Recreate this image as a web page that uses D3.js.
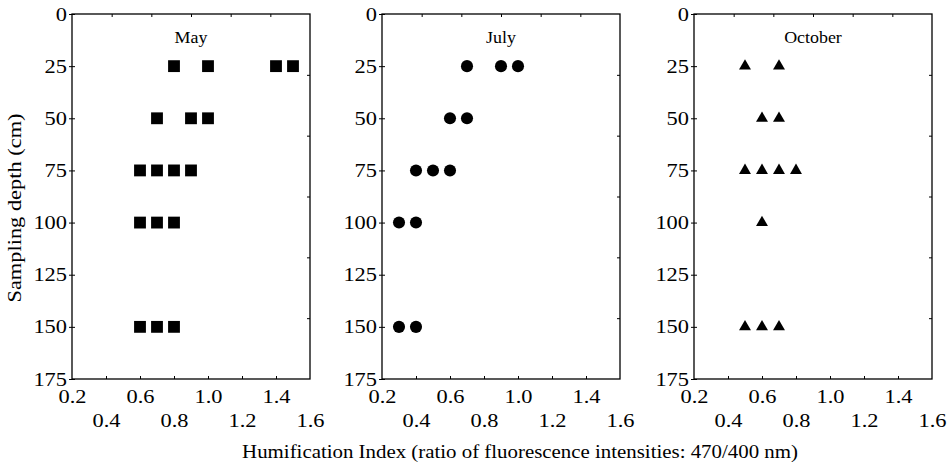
<!DOCTYPE html>
<html>
<head>
<meta charset="utf-8">
<script src="https://cdn.jsdelivr.net/npm/d3@7"></script>
<style>
  body { margin: 0; background: #fff; }
  text { font-family: "Liberation Serif", "Times New Roman", serif; fill: #000; }
</style>
</head>
<body>
<script>
// Data: humification index per sampling depth
const depthTicks = [0, 25, 50, 75, 100, 125, 150, 175];
const hiTicksRow1 = [0.2, 0.6, 1.0, 1.4];
const hiTicksRow2 = [0.4, 0.8, 1.2, 1.6];
const hiMinorTicks = [0.4, 0.6, 0.8, 1.0, 1.2, 1.4];

const panelNames = ['May', 'July', 'October'];

const mayDepth = [25, 25, 25, 25, 50, 50, 50, 75, 75, 75, 75, 100, 100, 100, 150, 150, 150];
const mayHI = [0.8, 1.0, 1.4, 1.5, 0.7, 0.9, 1.0, 0.6, 0.7, 0.8, 0.9, 0.6, 0.7, 0.8, 0.6, 0.7, 0.8];

const julyDepth = [25, 25, 25, 50, 50, 75, 75, 75, 100, 100, 150, 150];
const julyHI = [0.7, 0.9, 1.0, 0.6, 0.7, 0.4, 0.5, 0.6, 0.3, 0.4, 0.3, 0.4];

const octDepth = [25, 25, 50, 50, 75, 75, 75, 75, 100, 150, 150, 150];
const octHI = [0.5, 0.7, 0.6, 0.7, 0.5, 0.6, 0.7, 0.8, 0.6, 0.5, 0.6, 0.7];

const width = 952, height = 463;
const panelLeft = [72, 382, 694];
const panelW = 238;
const plotTop = 14, plotBottom = 379;
const stretch = 1.18; // glyphs in the figure are wider than Times

const svg = d3.select('body').append('svg')
    .attr('width', width)
    .attr('height', height);

// widen text horizontally, keeping its anchor point
function widen(sel, k) {
    sel.each(function () {
        const t = d3.select(this);
        const x = +t.attr('x') || 0;
        const y = +t.attr('y') || 0;
        t.attr('x', 0).attr('y', 0)
            .attr('transform', `translate(${x},${y}) scale(${k},1)`);
    });
}

const y = d3.scaleLinear().domain([0, 175]).range([plotTop, plotBottom]);

const panels = [
    { name: panelNames[0], depth: mayDepth, hi: mayHI, symbol: d3.symbolSquare, size: 140 },
    { name: panelNames[1], depth: julyDepth, hi: julyHI, symbol: d3.symbolCircle, size: 115 },
    { name: panelNames[2], depth: octDepth, hi: octHI, symbol: d3.symbolTriangle, size: 62 }
];

panels.forEach((p, i) => {
    const x0 = panelLeft[i];
    const x = d3.scaleLinear().domain([0.2, 1.6]).range([x0, x0 + panelW]);
    const g = svg.append('g');

    // left axis: ticks crossing the spine, labels outside
    const yl = g.append('g')
        .attr('transform', `translate(${x0},0)`)
        .call(d3.axisLeft(y).tickValues(depthTicks).tickSize(3).tickPadding(2));
    yl.select('.domain').remove();
    yl.attr('font-family', null).attr('font-size', null);
    yl.selectAll('text').attr('font-size', 19);
    widen(yl.selectAll('text'), stretch);
    g.append('g')
        .attr('transform', `translate(${x0},0)`)
        .call(d3.axisRight(y).tickValues(depthTicks).tickSize(3).tickFormat(''))
        .select('.domain').remove();

    // bottom: inward minor ticks plus two staggered rows of labels
    g.append('g')
        .attr('transform', `translate(0,${plotBottom})`)
        .call(d3.axisTop(x).tickValues(hiMinorTicks).tickSize(3).tickFormat(''))
        .select('.domain').remove();
    [[hiTicksRow1, 10], [hiTicksRow2, 34]].forEach(([vals, pad]) => {
        const a = g.append('g')
            .attr('transform', `translate(0,${plotBottom})`)
            .call(d3.axisBottom(x).tickValues(vals).tickSize(0).tickPadding(pad).tickFormat(d3.format('.1f')));
        a.select('.domain').remove();
        a.attr('font-family', null).attr('font-size', null);
        a.selectAll('text').attr('font-size', 19);
        widen(a.selectAll('text'), stretch);
    });

    // top and right: inward ticks on a six-part grid
    const topGrid = d3.scaleLinear().domain([0, 6]).range([x0, x0 + panelW]);
    const rightGrid = d3.scaleLinear().domain([0, 6]).range([plotTop, plotBottom]);
    g.append('g')
        .attr('transform', `translate(0,${plotTop})`)
        .call(d3.axisBottom(topGrid).tickValues([1, 2, 3, 4, 5]).tickSize(3).tickFormat(''))
        .select('.domain').remove();
    g.append('g')
        .attr('transform', `translate(${x0 + panelW},0)`)
        .call(d3.axisLeft(rightGrid).tickValues([1, 2, 3, 4, 5]).tickSize(3).tickFormat(''))
        .select('.domain').remove();

    // frame
    g.append('rect')
        .attr('x', x0).attr('y', plotTop)
        .attr('width', panelW).attr('height', plotBottom - plotTop)
        .attr('fill', 'none').attr('stroke', '#000').attr('stroke-width', 1.3);

    // panel title
    const t = g.append('text')
        .attr('x', x0 + panelW / 2)
        .attr('y', 43)
        .attr('text-anchor', 'middle')
        .attr('font-size', 16)
        .text(p.name);
    widen(t, 1.12);

    // markers
    const pts = p.depth.map((d, j) => ({ depth: d, hi: p.hi[j] }));
    g.selectAll('.pt')
        .data(pts)
        .enter()
        .append('path')
        .attr('class', 'pt')
        .attr('d', d3.symbol().type(p.symbol).size(p.size))
        .attr('transform', d => `translate(${x(d.hi)},${y(d.depth)})`)
        .attr('fill', '#000');
});

// axis titles
const xTitle = svg.append('text')
    .attr('x', 520).attr('y', 458)
    .attr('text-anchor', 'middle')
    .attr('font-size', 18)
    .text('Humification Index (ratio of fluorescence intensities: 470/400 nm)');
widen(xTitle, 1.16);

svg.append('text')
    .attr('text-anchor', 'middle')
    .attr('font-size', 19)
    .attr('transform', 'translate(21,208) rotate(-90) scale(1.18,1)')
    .text('Sampling depth (cm)');
</script>
</body>
</html>
